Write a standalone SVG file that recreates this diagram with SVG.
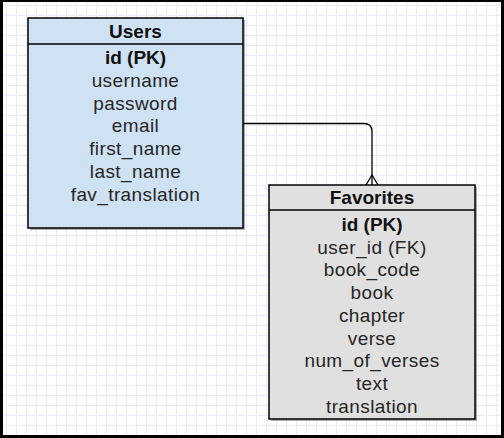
<svg xmlns="http://www.w3.org/2000/svg" width="504" height="438" viewBox="0 0 504 438">
  <defs>
    <pattern id="grid" x="6" y="5" width="10" height="10" patternUnits="userSpaceOnUse">
      <path d="M0.5 0V10M0 0.5H10" fill="none" stroke="#ebebf9" stroke-width="1"/>
    </pattern>
  </defs>
  <style>
    .box { stroke: #000; stroke-width: 1.5; }
    .shadow { fill: #000; opacity: 0.3; }
    .hdr { font-family: "Liberation Sans", Arial, sans-serif; font-size: 19px; font-weight: bold; fill: #111; text-anchor: middle; }
    .pk { font-family: "Liberation Sans", Arial, sans-serif; font-size: 19px; font-weight: bold; fill: #111; text-anchor: middle; }
    .row { font-family: "Liberation Sans", Arial, sans-serif; font-size: 19px; letter-spacing: 0.4px; fill: #262626; text-anchor: middle; }
    .conn { fill: none; stroke: #000; stroke-width: 1.3; }
  </style>
  <rect width="504" height="438" fill="#fff"/>
  <rect width="504" height="438" fill="url(#grid)"/>

  <g id="connectors">
    <path class="conn" d="M243 123.5H364Q372 123.5 372 131.5V185"/>
    <path class="conn" d="M366 185L372 175L378 185"/>
  </g>

  <g id="users">
    <rect class="shadow" x="30" y="20" width="215" height="210"/>
    <rect class="box" x="28" y="18" width="215" height="210" fill="#cfe2f3"/>
    <line class="box" x1="28" y1="44" x2="243" y2="44"/>
    <text class="hdr" x="135.5" y="37.5">Users</text>
    <text class="pk" x="135.5" y="64">id (PK)</text>
    <text class="row" x="135.5" y="86.8">username</text>
    <text class="row" x="135.5" y="109.6">password</text>
    <text class="row" x="135.5" y="132.4">email</text>
    <text class="row" x="135.5" y="155.2">first_name</text>
    <text class="row" x="135.5" y="178">last_name</text>
    <text class="row" x="135.5" y="200.8">fav_translation</text>
  </g>

  <g id="favorites">
    <rect class="shadow" x="271" y="187" width="206" height="234"/>
    <rect class="box" x="269" y="185" width="206" height="234" fill="#e0e0e0"/>
    <line class="box" x1="269" y1="210" x2="475" y2="210"/>
    <text class="hdr" x="372" y="203.5">Favorites</text>
    <text class="pk" x="372" y="231">id (PK)</text>
    <text class="row" x="372" y="253.7">user_id (FK)</text>
    <text class="row" x="372" y="276.4">book_code</text>
    <text class="row" x="372" y="299.1">book</text>
    <text class="row" x="372" y="321.8">chapter</text>
    <text class="row" x="372" y="344.5">verse</text>
    <text class="row" x="372" y="367.2">num_of_verses</text>
    <text class="row" x="372" y="389.9">text</text>
    <text class="row" x="372" y="412.6">translation</text>
  </g>

  <g id="frame" fill="#000">
    <rect x="0" y="0" width="504" height="2"/>
    <rect x="0" y="0" width="3" height="438"/>
    <rect x="501" y="0" width="3" height="438"/>
    <rect x="0" y="435" width="504" height="3"/>
  </g>
</svg>
